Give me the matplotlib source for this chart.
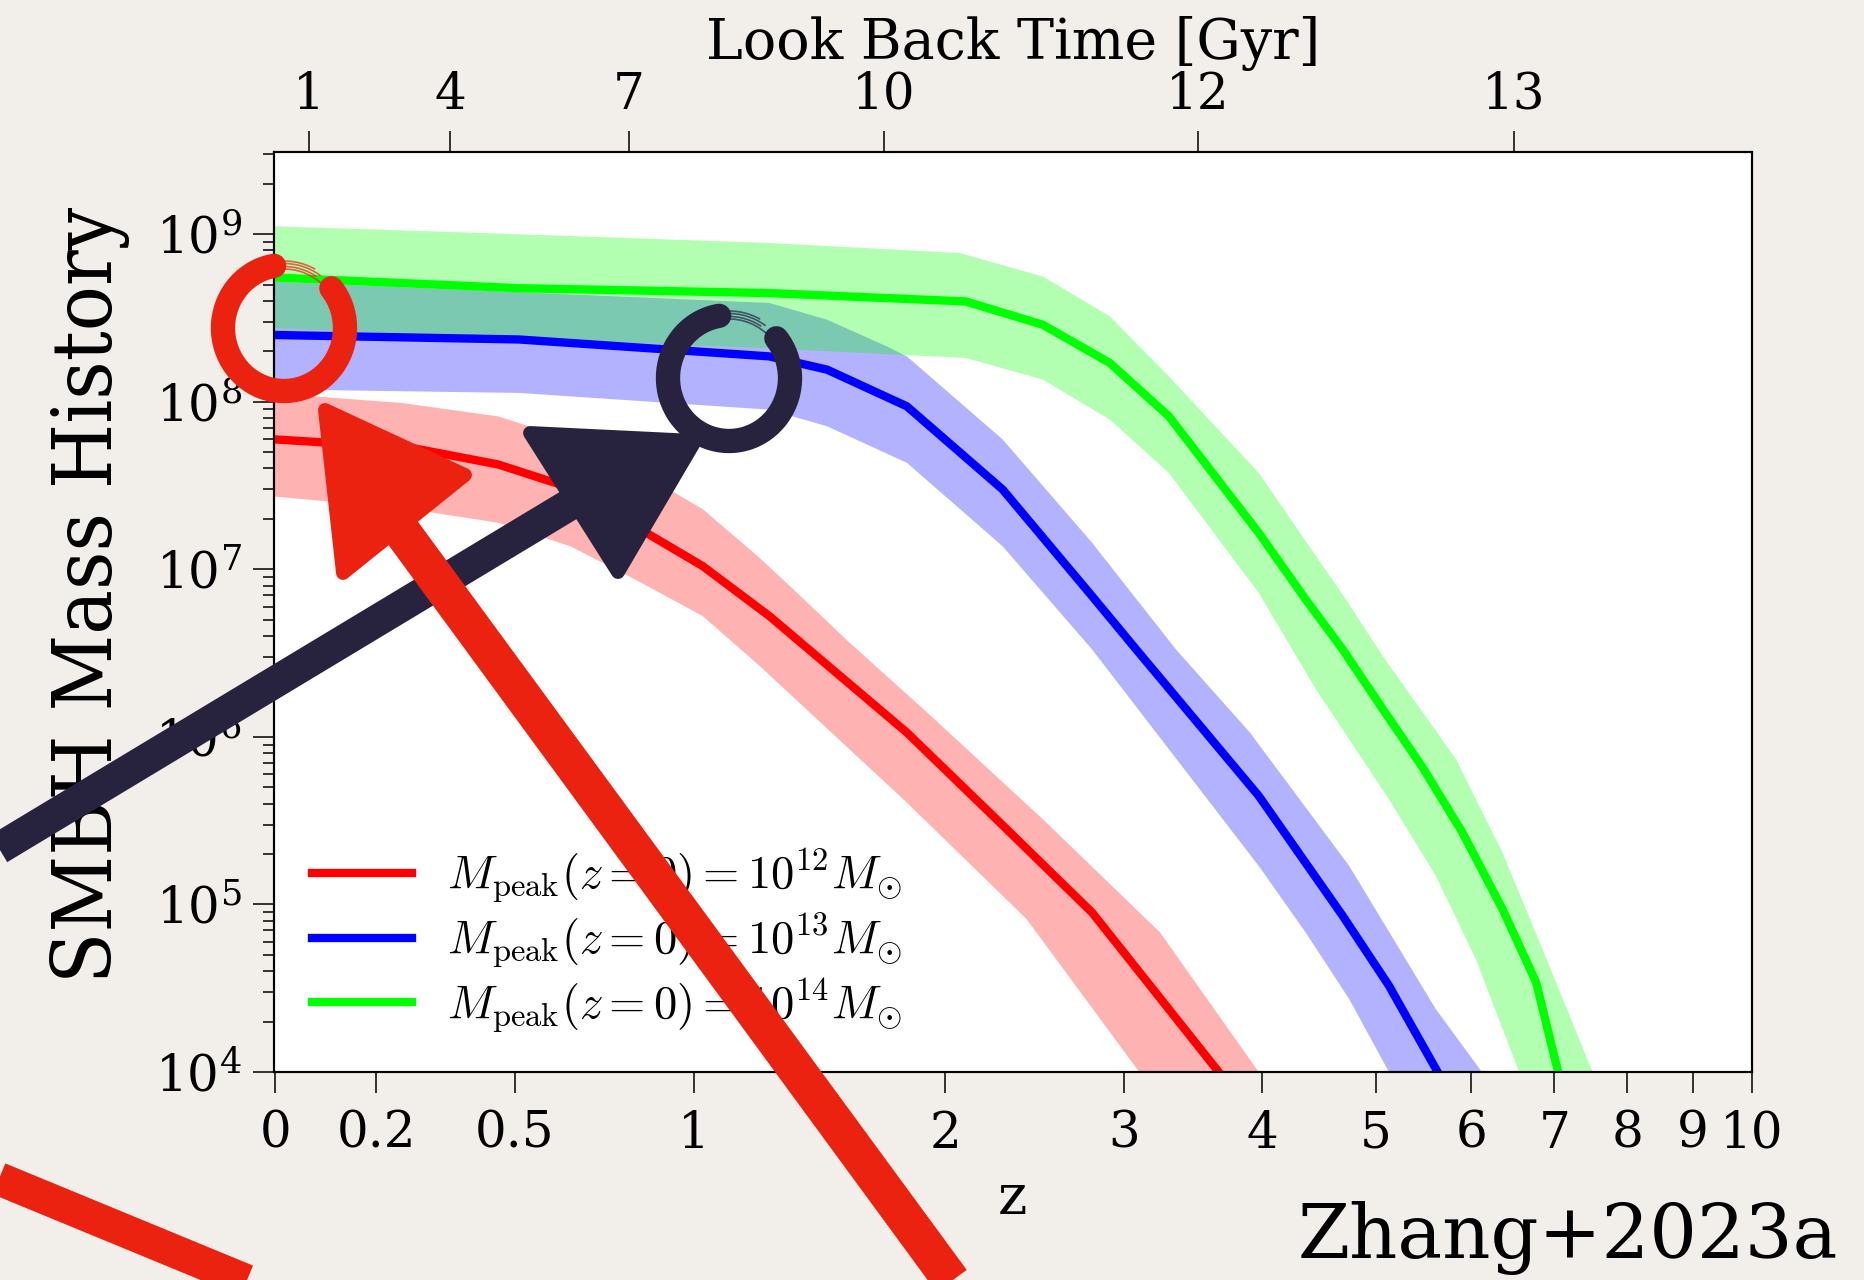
import numpy as np
import matplotlib.pyplot as plt
from matplotlib import font_manager
from matplotlib.patches import Arc, Polygon
from matplotlib.lines import Line2D
from matplotlib.ticker import NullLocator
from matplotlib.transforms import Affine2D
from matplotlib.font_manager import FontProperties

plt.rcParams['font.family'] = ['DejaVu Serif']
plt.rcParams['mathtext.fontset'] = 'dejavuserif'

# --- values (redshift, log10 of SMBH mass) ---
# M_peak(z=0) = 1e12
z_red = [0.0, 0.27, 0.38, 0.46, 0.64, 0.82, 1.03, 1.26, 1.82, 2.24, 2.80, 3.66, 3.9]
lm_red = [7.78, 7.725, 7.666, 7.626, 7.487, 7.258, 7.019, 6.721, 6.026, 5.528, 4.952, 4.0, 3.75]
z_red_hi = [0.0, 0.25, 0.46, 0.64, 0.82, 1.03, 1.225, 1.35, 1.57, 1.91, 2.51, 3.24, 3.97, 4.2]
lm_red_hi = [8.055, 7.993, 7.913, 7.775, 7.596, 7.359, 7.068, 6.879, 6.564, 6.15, 5.509, 4.833, 4.0, 3.8]
z_red_lo = [0.0, 0.25, 0.46, 0.64, 0.82, 1.03, 1.225, 1.82, 2.42, 3.10, 3.3]
lm_red_lo = [7.44, 7.367, 7.278, 7.138, 6.940, 6.721, 6.423, 5.608, 4.912, 4.0, 3.8]

# M_peak(z=0) = 1e13
z_blue = [0.0, 0.51, 1.26, 1.48, 1.82, 2.29, 2.80, 3.08, 3.97, 4.69, 5.13, 5.63, 5.9]
lm_blue = [8.40, 8.372, 8.271, 8.192, 7.973, 7.477, 6.840, 6.522, 5.648, 4.932, 4.515, 4.0, 3.7]
z_blue_hi = [0.0, 1.26, 1.48, 1.73, 1.82, 2.29, 2.80, 3.35, 3.90, 4.75, 5.61, 6.12, 6.4]
lm_blue_hi = [8.72, 8.59, 8.49, 8.331, 8.271, 7.776, 7.159, 6.522, 6.026, 5.230, 4.376, 4.0, 3.7]
z_blue_lo = [0.0, 0.51, 1.26, 1.48, 1.82, 2.29, 2.80, 3.97, 4.36, 4.75, 5.13, 5.4]
lm_blue_lo = [8.075, 8.053, 7.953, 7.854, 7.636, 7.138, 6.522, 5.230, 4.833, 4.435, 4.0, 3.7]

# M_peak(z=0) = 1e14
z_green = [0.0, 0.51, 1.26, 2.10, 2.51, 2.91, 3.30, 3.97, 4.36, 4.69, 5.07, 5.47, 5.90, 6.36, 6.77, 7.05, 7.3]
lm_green = [8.745, 8.678, 8.649, 8.599, 8.460, 8.232, 7.914, 7.218, 6.821, 6.522, 6.165, 5.819, 5.429,
            4.972, 4.535, 4.0, 3.6]
z_green_hi = [0.0, 0.51, 1.26, 2.07, 2.51, 2.91, 3.30, 3.97, 4.72, 5.07, 5.83, 6.36, 6.85, 7.51, 7.8]
lm_green_hi = [9.05, 9.0, 8.948, 8.888, 8.748, 8.510, 8.152, 7.576, 6.820, 6.482, 5.866, 5.310, 4.733, 4.0, 3.6]
z_green_lo = [0.0, 1.225, 2.10, 2.51, 2.91, 3.30, 3.97, 4.45, 5.13, 5.61, 6.05, 6.56, 6.8]
lm_green_lo = [8.442, 8.321, 8.262, 8.133, 7.894, 7.576, 6.860, 6.284, 5.628, 5.171, 4.674, 4.0, 3.7]

labels = [r'$M_{\rm peak}(z=0)=10^{12}M_{\odot}$',
          r'$M_{\rm peak}(z=0)=10^{13}M_{\odot}$',
          r'$M_{\rm peak}(z=0)=10^{14}M_{\odot}$']

# bottom axis ticks (first tick sits just right of the spine)
z_ticks = [0.02, 0.2, 0.5, 1, 2, 3, 4, 5, 6, 7, 8, 9, 10]
z_tick_labels = ['0', '0.2', '0.5', '1', '2', '3', '4', '5', '6', '7', '8', '9', '10']
# top axis: look back time labels and the redshift where they sit
lbt_labels = ['1', '4', '7', '10', '12', '13']
lbt_z = [0.076, 0.351, 0.802, 1.716, 3.505, 6.498]

W, H = 1865, 1280
fig = plt.figure(figsize=(W / 100, H / 100), dpi=100)
fig.patch.set_facecolor('#f2eee9')
ax = fig.add_axes([0.1467, 0.1625, 0.7927, 0.7188])
ax.set_facecolor('white')


def fwd(z):
    return np.log10(1 + np.asarray(z, dtype=float))


def inv(u):
    return 10 ** np.asarray(u, dtype=float) - 1


ax.set_xscale('function', functions=(fwd, inv))
ax.set_yscale('log')

series = [
    ('red', z_red, lm_red, z_red_hi, lm_red_hi, z_red_lo, lm_red_lo),
    ('blue', z_blue, lm_blue, z_blue_hi, lm_blue_hi, z_blue_lo, lm_blue_lo),
    ('lime', z_green, lm_green, z_green_hi, lm_green_hi, z_green_lo, lm_green_lo),
]
handles = []
for col, zl, ml, zh, mh, zlo, mlo in series:
    band_x = list(zh) + list(zlo)[::-1]
    band_y = list(10 ** np.array(mh)) + list(10 ** np.array(mlo))[::-1]
    ax.fill(band_x, band_y, color=col, alpha=0.3, lw=0, zorder=1)
for col, zl, ml, zh, mh, zlo, mlo in series:
    h, = ax.plot(zl, 10 ** np.array(ml), color=col, lw=6, zorder=3)
    handles.append(h)

ax.set_xlim(0.0169, 10)
ax.set_ylim(1e4, 3.1e9)
ax.set_xticks(z_ticks)
ax.set_xticklabels(z_tick_labels)
ax.xaxis.set_minor_locator(NullLocator())

for s in ax.spines.values():
    s.set_linewidth(1.5)
ax.tick_params(axis='both', which='major', direction='out', length=15, width=1.1,
               labelsize=36, pad=8, top=False, right=False)
ax.tick_params(axis='y', which='minor', direction='out', length=8, width=1.1, right=False)
ax.tick_params(axis='x', which='major', pad=12)

ax.set_xlabel('z', fontsize=40)
ax.xaxis.set_label_coords(0.4996, -0.108)

# y label: a narrower serif if the condensed cut is installed
ylab_fp = FontProperties(family='DejaVu Serif', stretch='condensed', size=60)
if 'Condensed' not in font_manager.findfont(ylab_fp):
    ylab_fp = FontProperties(family='DejaVu Serif', size=54)
ax.set_ylabel('SMBH Mass History', fontproperties=ylab_fp)
ax.yaxis.set_label_coords(-0.097, 0.518)

ax2 = ax.twiny()
ax2.set_xscale('function', functions=(fwd, inv))
ax2.set_xlim(ax.get_xlim())
ax2.set_xticks(lbt_z)
ax2.set_xticklabels(lbt_labels)
ax2.xaxis.set_minor_locator(NullLocator())
ax2.tick_params(axis='x', direction='out', length=15, width=1.1, labelsize=36, pad=8)
for s in ax2.spines.values():
    s.set_linewidth(1.5)
ax2.set_xlabel('Look Back Time [Gyr]', fontsize=40)
ax2.xaxis.set_label_coords(0.5, 1.101)

leg = ax.legend(handles, labels, loc='lower left', bbox_to_anchor=(0.026, 0.04),
                frameon=False, borderpad=0, borderaxespad=0, handlelength=2.15,
                handletextpad=0.76, labelspacing=0.13,
                prop=FontProperties(size=33.5, math_fontfamily='cm'))

fig.text(1838 / W, (H - 1258) / H, 'Zhang+2023a', fontsize=54, ha='right', va='baseline')

# --- hand drawn marks on top of the figure, in pixel coordinates from top-left ---
pix = Affine2D().scale(1 / W, 1 / H) + fig.transFigure
RED = '#ec2211'
NAVY = '#27233e'


def P(x, y):
    return (x, H - y)


def ring(cx, cy, col):
    fig.add_artist(Arc(P(cx, cy), 122, 126, theta1=99, theta2=40, lw=17.5, color=col,
                       capstyle='round', transform=pix, zorder=20))
    for dr, a0 in [(-8, 50), (-3, 58), (3, 55), (8, 62)]:
        fig.add_artist(Arc(P(cx, cy), 122 + dr, 126 + dr, theta1=a0, theta2=100, lw=1.2,
                           color=col, alpha=0.7, transform=pix, zorder=20))


def shaft(x1, y1, x2, y2, col, lw):
    fig.add_artist(Line2D([x1, x2], [H - y1, H - y2], lw=lw, color=col,
                          solid_capstyle='butt', transform=pix, zorder=19))


def head(pts, col):
    fig.add_artist(Polygon([P(x, y) for x, y in pts], closed=True, fc=col, ec=col, lw=10,
                           joinstyle='round', transform=pix, zorder=20))


ring(284, 328, RED)
ring(729, 378, NAVY)

shaft(-60, 884, 574, 502, NAVY, 23)
head([(530, 433), (618, 572), (695, 441)], NAVY)

shaft(1000, 1347, 392, 518, RED, 27)
head([(325, 410), (343, 573), (465, 475)], RED)

shaft(-20, 1171, 300, 1303, RED, 24)

fig.savefig('out.png', dpi=100, facecolor=fig.get_facecolor())
